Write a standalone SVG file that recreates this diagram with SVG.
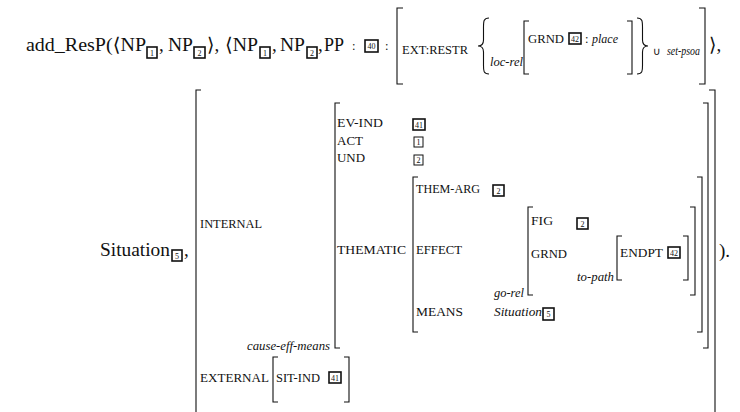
<svg xmlns="http://www.w3.org/2000/svg" width="740" height="412" viewBox="0 0 740 412">
<defs>
<style>
text{font-family:'Liberation Serif','DejaVu Serif',serif;fill:#111}
.big{font-size:19px}
.lab{font-size:12.5px}
.it{font-size:12.5px;font-style:italic}
.sym{font-family:'DejaVu Sans','Liberation Sans',sans-serif;font-size:11px}
.br{fill:none;stroke:#111;stroke-width:1.1}
.bx{fill:#fff;stroke:#111;stroke-width:1.6}
.bxt{fill:#fff;stroke:#111;stroke-width:1}
.num{font-size:8px;text-anchor:middle}
</style>
</defs>
<rect width="740" height="412" fill="#fff"/>

<g id="head">
<text class="big" x="26" y="51" textLength="120" lengthAdjust="spacingAndGlyphs">add_ResP(⟨NP</text>
<rect class="bx" x="147" y="47" width="10" height="11"/><text class="num" x="152" y="55.5">1</text>
<text class="big" x="159" y="51">,</text>
<text class="big" x="168" y="51" textLength="25" lengthAdjust="spacingAndGlyphs">NP</text>
<rect class="bx" x="194" y="47" width="11" height="11"/><text class="num" x="199.5" y="55.5">2</text>
<text class="big" x="207" y="51">⟩,</text>
<text class="big" x="225" y="51" textLength="33" lengthAdjust="spacingAndGlyphs">⟨NP</text>
<rect class="bx" x="260" y="47" width="10" height="11"/><text class="num" x="265" y="55.5">1</text>
<text class="big" x="272" y="51">,</text>
<text class="big" x="280" y="51" textLength="25" lengthAdjust="spacingAndGlyphs">NP</text>
<rect class="bx" x="307" y="47" width="10" height="11"/><text class="num" x="312" y="55.5">2</text>
<text class="big" x="318" y="51">,</text>
<text class="big" x="324" y="51" textLength="20" lengthAdjust="spacingAndGlyphs">PP</text>
<text class="lab" x="352" y="50">:</text>
<rect class="bx" x="365" y="40" width="13" height="12"/><text class="num" x="371.5" y="49">40</text>
<text class="lab" x="385" y="50">:</text>
</g>

<g id="ext-restr">
<path class="br" d="M403 8H397V84H403"/>
<text class="lab" x="402" y="54" textLength="66" lengthAdjust="spacingAndGlyphs">EXT:RESTR</text>
<path class="br" d="M489 18C483 18 483.5 22 483.5 30V40C483.5 44 482 46 478 46C482 46 483.5 48 483.5 52V64C483.5 70 483 74 489 74"/>
<text class="it" x="490" y="66" textLength="33" lengthAdjust="spacingAndGlyphs">loc-rel</text>
<path class="br" d="M529 21H524V74H529"/>
<text class="lab" x="528" y="43" textLength="36" lengthAdjust="spacingAndGlyphs">GRND</text>
<rect class="bx" x="569" y="33" width="12" height="11"/><text class="num" x="575" y="41.5">42</text>
<text class="lab" x="585" y="43">:</text>
<text class="it" x="592" y="43" textLength="26" lengthAdjust="spacingAndGlyphs">place</text>
<path class="br" d="M627 21H632V74H627"/>
<path class="br" d="M637 18C643 18 642.5 22 642.5 30V40C642.5 44 644 46 648 46C644 46 642.5 48 642.5 52V64C642.5 70 643 74 637 74"/>
<text class="sym" x="653" y="55">∪</text>
<text class="it" x="667" y="55" textLength="33" lengthAdjust="spacingAndGlyphs">set-psoa</text>
<path class="br" d="M699 8H705V84H699"/>
<text class="big" x="709" y="51">⟩,</text>
</g>

<g id="situation">
<text class="big" x="100" y="256" textLength="70" lengthAdjust="spacingAndGlyphs">Situation</text>
<rect class="bx" x="172" y="250" width="10" height="11"/><text class="num" x="177" y="258.5">5</text>
<text class="big" x="184" y="256">,</text>
<path class="br" d="M201 90H196V420"/>
<path class="br" d="M709 90H715V420"/>
<text class="big" x="719" y="257">).</text>
</g>

<g id="internal">
<text class="lab" x="200" y="228" textLength="62" lengthAdjust="spacingAndGlyphs">INTERNAL</text>
<path class="br" d="M340 103H335V348H340"/>
<path class="br" d="M703 103H708V348H703"/>
<text class="it" x="330" y="350" text-anchor="end" textLength="83" lengthAdjust="spacingAndGlyphs">cause-eff-means</text>
<text class="lab" x="337" y="127" textLength="46" lengthAdjust="spacingAndGlyphs">EV-IND</text>
<rect class="bx" x="413" y="119" width="12" height="11"/><text class="num" x="419" y="127.5">41</text>
<text class="lab" x="337" y="145" textLength="26" lengthAdjust="spacingAndGlyphs">ACT</text>
<rect class="bxt" x="414" y="137" width="9" height="10"/><text class="num" x="418.5" y="145">1</text>
<text class="lab" x="337" y="162" textLength="28" lengthAdjust="spacingAndGlyphs">UND</text>
<rect class="bxt" x="414" y="155" width="9" height="10"/><text class="num" x="418.5" y="163">2</text>
<text class="lab" x="337" y="254" textLength="69" lengthAdjust="spacingAndGlyphs">THEMATIC</text>
</g>

<g id="thematic">
<path class="br" d="M418 177H413V332H418"/>
<path class="br" d="M697 177H702V332H697"/>
<text class="lab" x="416" y="193" textLength="64" lengthAdjust="spacingAndGlyphs">THEM-ARG</text>
<rect class="bx" x="493" y="185" width="11" height="11"/><text class="num" x="498.5" y="193.5">2</text>
<text class="lab" x="416" y="254" textLength="46" lengthAdjust="spacingAndGlyphs">EFFECT</text>
<text class="lab" x="416" y="316" textLength="47" lengthAdjust="spacingAndGlyphs">MEANS</text>
<text class="it" x="494" y="316" textLength="48" lengthAdjust="spacingAndGlyphs">Situation</text>
<rect class="bx" x="543" y="308" width="11" height="12"/><text class="num" x="548.5" y="317">5</text>
</g>

<g id="effect">
<path class="br" d="M533 207H528V295H533"/>
<path class="br" d="M690 207H695V295H690"/>
<text class="it" x="524" y="297" text-anchor="end" textLength="30" lengthAdjust="spacingAndGlyphs">go-rel</text>
<text class="lab" x="531" y="225" textLength="22" lengthAdjust="spacingAndGlyphs">FIG</text>
<rect class="bx" x="577" y="218" width="11" height="11"/><text class="num" x="582.5" y="226.5">2</text>
<text class="lab" x="531" y="258" textLength="36" lengthAdjust="spacingAndGlyphs">GRND</text>
<text class="it" x="614" y="281" text-anchor="end" textLength="37" lengthAdjust="spacingAndGlyphs">to-path</text>
<path class="br" d="M622 236H617V280H622"/>
<path class="br" d="M683 236H688V280H683"/>
<text class="lab" x="620" y="257" textLength="43" lengthAdjust="spacingAndGlyphs">ENDPT</text>
<rect class="bx" x="668" y="247" width="12" height="11"/><text class="num" x="674" y="255.5">42</text>
</g>

<g id="external">
<text class="lab" x="200" y="382" textLength="69" lengthAdjust="spacingAndGlyphs">EXTERNAL</text>
<path class="br" d="M278 357H273V402H278"/>
<text class="lab" x="276" y="382" textLength="44" lengthAdjust="spacingAndGlyphs">SIT-IND</text>
<rect class="bx" x="329" y="372" width="12" height="11"/><text class="num" x="335" y="380.5">41</text>
<path class="br" d="M344 357H349V402H344"/>
</g>
</svg>
